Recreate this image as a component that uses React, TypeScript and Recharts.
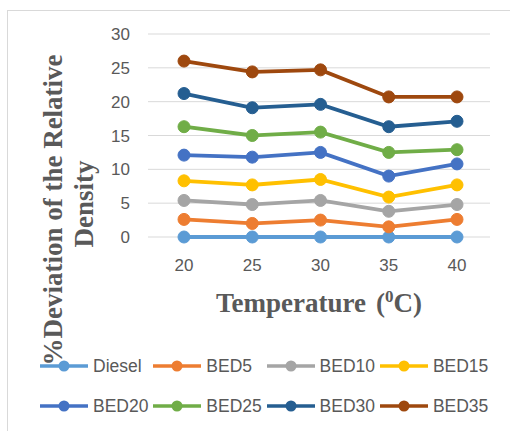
import React from "react";
import {
  LineChart,
  Line,
  XAxis,
  YAxis,
  CartesianGrid,
  Legend,
} from "recharts";

const temperatures = [20, 25, 30, 35, 40];

const diesel = [0, 0, 0, 0, 0];
const bed5 = [2.6, 2.0, 2.5, 1.5, 2.6];
const bed10 = [5.4, 4.8, 5.4, 3.8, 4.8];
const bed15 = [8.3, 7.7, 8.5, 5.9, 7.7];
const bed20 = [12.1, 11.8, 12.5, 9.0, 10.8];
const bed25 = [16.3, 15.0, 15.5, 12.5, 12.9];
const bed30 = [21.2, 19.1, 19.6, 16.3, 17.1];
const bed35 = [26.0, 24.4, 24.7, 20.7, 20.7];

const yTicks = [0, 5, 10, 15, 20, 25, 30];

const series = [
  { key: "Diesel", values: diesel, color: "#5B9BD5" },
  { key: "BED5", values: bed5, color: "#ED7D31" },
  { key: "BED10", values: bed10, color: "#A5A5A5" },
  { key: "BED15", values: bed15, color: "#FFC000" },
  { key: "BED20", values: bed20, color: "#4472C4" },
  { key: "BED25", values: bed25, color: "#70AD47" },
  { key: "BED30", values: bed30, color: "#255E91" },
  { key: "BED35", values: bed35, color: "#9E480E" },
];

const data = temperatures.map((t, i) => {
  const row: Record<string, number> = { t };
  series.forEach((s) => {
    row[s.key] = s.values[i];
  });
  return row;
});

const GREY = "#595959";
const TICK_FONT = "'Liberation Sans', Arial, sans-serif";
const TITLE_FONT = "'Liberation Serif', 'Times New Roman', serif";

function LegendContent() {
  return (
    <div
      style={{
        display: "flex",
        flexWrap: "wrap",
        paddingLeft: 40,
        width: 470,
        fontFamily: TICK_FONT,
        fontSize: 17.5,
        color: GREY,
      }}
    >
      {series.map((s) => (
        <div
          key={s.key}
          style={{
            width: 113.3,
            height: 40,
            display: "flex",
            alignItems: "center",
          }}
        >
          <svg width={48} height={14} style={{ marginRight: 5 }}>
            <line x1={0} y1={7} x2={48} y2={7} stroke={s.color} strokeWidth={3.5} />
            <circle cx={24} cy={7} r={5.5} fill={s.color} />
          </svg>
          <span>{s.key}</span>
        </div>
      ))}
    </div>
  );
}

function YLabel() {
  return (
    <g fill={GREY} fontFamily={TITLE_FONT} fontWeight="bold" fontSize={27}>
      <text x={62} y={210} textAnchor="middle" transform="rotate(-90 62 210)">
        %Deviation of the Relative
      </text>
      <text x={93} y={204} textAnchor="middle" transform="rotate(-90 93 204)">
        Density
      </text>
    </g>
  );
}

function XLabel() {
  return (
    <text
      x={319}
      y={312}
      textAnchor="middle"
      fill={GREY}
      fontFamily={TITLE_FONT}
      fontWeight="bold"
      fontSize={27}
    >
      <tspan>Temperature</tspan>
      <tspan dx={10}>(</tspan>
      <tspan dy={-10} fontSize={17}>
        0
      </tspan>
      <tspan dy={10}>C)</tspan>
    </text>
  );
}

export default function App() {
  return (
    <div style={{ position: "absolute", left: 0, top: 0, width: 510, height: 431, background: "#fff" }}>
      <div
        style={{
          position: "absolute",
          left: 7,
          top: 10,
          width: 520,
          height: 440,
          border: "1px solid #d9d9d9",
        }}
      />
      <LineChart
        width={510}
        height={431}
        data={data}
        margin={{ top: 34, right: 20, left: 0, bottom: 114 }}
      >
        <CartesianGrid vertical={false} stroke="#d9d9d9" strokeWidth={1} />
        <XAxis
          dataKey="t"
          axisLine={false}
          tickLine={false}
          height={80}
          tickMargin={16}
          padding={{ left: 36, right: 33 }}
          tick={{ fill: GREY, fontSize: 17, fontFamily: TICK_FONT }}
          label={<XLabel />}
        />
        <YAxis
          domain={[0, 30]}
          ticks={yTicks}
          width={148}
          axisLine={false}
          tickLine={false}
          tickMargin={12}
          tick={{ fill: GREY, fontSize: 17, fontFamily: TICK_FONT }}
          label={<YLabel />}
        />
        {series.map((s) => (
          <Line
            key={s.key}
            type="linear"
            dataKey={s.key}
            stroke={s.color}
            strokeWidth={3.8}
            dot={{ r: 6, fill: s.color, stroke: s.color, strokeWidth: 1 }}
            isAnimationActive={false}
          />
        ))}
        <Legend
          layout="horizontal"
          verticalAlign="middle"
          align="center"
          content={<LegendContent />}
          wrapperStyle={{ position: "absolute", left: 0, top: 346, width: 510 }}
        />
      </LineChart>
    </div>
  );
}
